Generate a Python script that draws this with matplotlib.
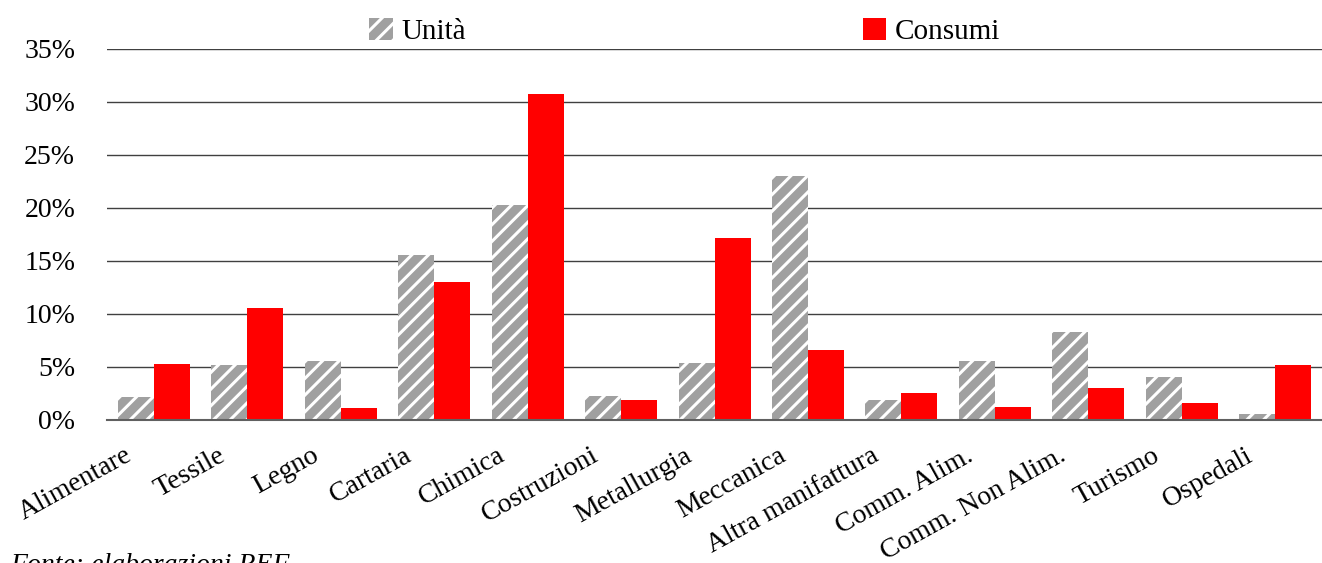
import numpy as np
import matplotlib
matplotlib.use("Agg")
import matplotlib.pyplot as plt
import matplotlib.transforms as mtransforms
from matplotlib.ticker import FuncFormatter

plt.rcParams['font.family'] = ['Liberation Serif', 'DejaVu Serif']
plt.rcParams['hatch.linewidth'] = 2.2

settori = ["Alimentare", "Tessile", "Legno", "Cartaria", "Chimica", "Costruzioni",
           "Metallurgia", "Meccanica", "Altra manifattura", "Comm. Alim.",
           "Comm. Non Alim.", "Turismo", "Ospedali"]
unita = [2.2, 5.2, 5.6, 15.6, 20.3, 2.3, 5.4, 23.0, 1.9, 5.6, 8.3, 4.1, 0.6]
consumi = [5.3, 10.6, 1.1, 13.0, 30.8, 1.9, 17.2, 6.6, 2.5, 1.2, 3.0, 1.6, 5.2]
yticks = [0, 5, 10, 15, 20, 25, 30, 35]

fig = plt.figure(figsize=(13.22, 5.63), dpi=100)
ax = fig.add_axes([0.081, 0.254, 0.919, 0.659])

x = np.arange(len(settori))
w = 0.385
b1 = ax.bar(x - w / 2, unita, w, facecolor='#a0a0a0', edgecolor='white',
            hatch='//', linewidth=0, label='Unità', zorder=3)
b2 = ax.bar(x + w / 2, consumi, w, color='#ff0000', linewidth=0,
            label='Consumi', zorder=3)

ax.set_xlim(-0.5, len(settori) - 0.5)
ax.set_ylim(0, 35)
ax.set_yticks(yticks)
ax.yaxis.set_major_formatter(FuncFormatter(lambda v, p: f"{v:.0f}%"))
ax.grid(axis='y', color='#404040', linewidth=1, zorder=0)
for s in ['left', 'right', 'top']:
    ax.spines[s].set_visible(False)
ax.spines['bottom'].set_color('#606060')
ax.spines['bottom'].set_linewidth(1.5)
ax.spines['bottom'].set_zorder(4)
ax.tick_params(axis='both', length=0)
ax.tick_params(axis='y', pad=23, labelsize=20)
ax.set_xticks(x)
ax.set_xticklabels(settori, rotation=29, ha='right', va='center',
                   rotation_mode='anchor', fontsize=20)
ax.tick_params(axis='x', pad=0)
shift = mtransforms.ScaledTranslation(-24 / 100, -34 / 100, fig.dpi_scale_trans)
for lab in ax.get_xticklabels():
    lab.set_transform(lab.get_transform() + shift)

fig.legend(handles=[b1, b2], loc='upper center', bbox_to_anchor=(0.518, 1.015),
           ncol=2, frameon=False, fontsize=21, columnspacing=13.6,
           handlelength=0.8, handleheight=0.8, handletextpad=0.3)

fig.text(0.008, -0.004, "Fonte: elaborazioni REF", fontsize=20, style='italic',
         va='center', ha='left')

fig.savefig("out.png", dpi=100)
